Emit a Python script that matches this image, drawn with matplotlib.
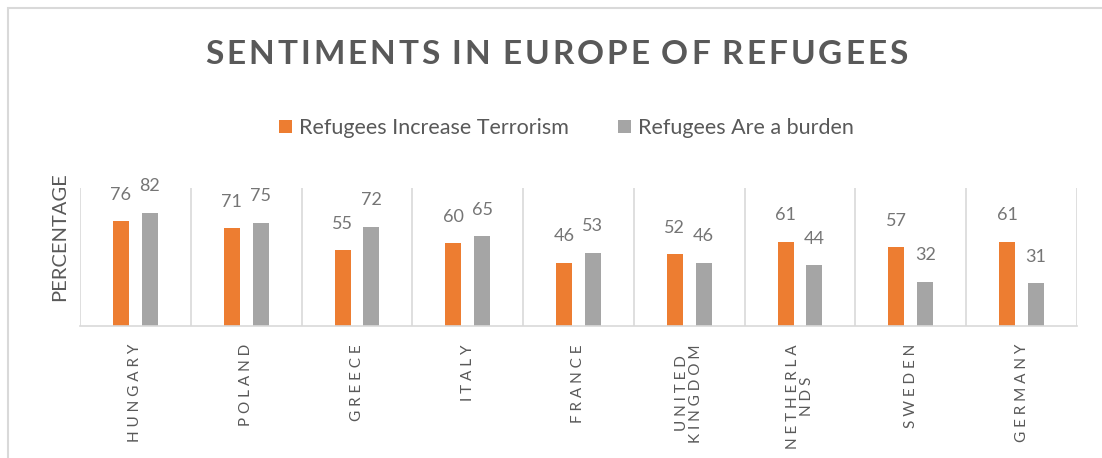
import numpy as np
import matplotlib.pyplot as plt
from matplotlib.patches import Rectangle

plt.rcParams['font.family'] = ['Lato', 'DejaVu Sans']

countries = ["HUNGARY", "POLAND", "GREECE", "ITALY", "FRANCE",
             "UNITED\nKINGDOM", "NETHERLA\nNDS", "SWEDEN", "GERMANY"]
terrorism = [76, 71, 55, 60, 46, 52, 61, 57, 61]
burden = [82, 75, 72, 65, 53, 46, 44, 32, 31]

TITLE = "SENTIMENTS IN EUROPE OF REFUGEES"

ORANGE = "#ED7D31"
GRAY = "#A5A5A5"
TEXT = "#595959"
LINE = "#D9D9D9"


def spaced(s):
    # letter-spaced category labels, one line per row
    return "\n".join(" ".join(part) for part in s.split("\n"))


def tracked_text(fig, s, xc, y, track, **kw):
    # draw s one glyph at a time with extra spacing (px) between glyphs
    r = fig.canvas.get_renderer()
    W = fig.bbox.width
    widths = []
    for ch in s:
        t = fig.text(0, 0, ch if ch != " " else "I", **kw)
        widths.append(t.get_window_extent(r).width * (0.6 if ch == " " else 1))
        t.remove()
    total = sum(widths) + track * (len(s) - 1)
    xpos = xc * W - total / 2
    for ch, wch in zip(s, widths):
        if ch != " ":
            fig.text(xpos / W, y, ch, ha="left", va="center", **kw)
        xpos += wch + track


fig = plt.figure(figsize=(11.02, 4.58), dpi=100)
ax = fig.add_axes([0.0726, 0.2882, 0.9047, 0.3013])

x = np.arange(len(countries))
w = 0.145
off = 0.13
b1 = ax.bar(x - off, terrorism, w, color=ORANGE, label="Refugees Increase Terrorism")
b2 = ax.bar(x + off, burden, w, color=GRAY, label="Refugees Are a burden")

for bars, vals in ((b1, terrorism), (b2, burden)):
    for rect, v in zip(bars, vals):
        ax.annotate(str(v), (rect.get_x() + rect.get_width() / 2, v),
                    xytext=(0, 19), textcoords="offset points",
                    ha="center", va="center", fontsize=13, color="#757575")

ax.set_xlim(-0.5, len(countries) - 0.5)
ax.set_ylim(0, 100)
ax.set_xticks(x)
ax.set_xticklabels([spaced(c) for c in countries], rotation=90,
                   fontsize=11, color=TEXT, linespacing=1.0)
ax.set_xticks(np.arange(-0.5, len(countries), 1), minor=True)
ax.tick_params(axis="x", which="both", length=0, pad=13)
ax.set_yticks([])
ax.grid(which="minor", axis="x", color=LINE, linewidth=1.2)
ax.set_axisbelow(True)
for side in ("top", "right", "left"):
    ax.spines[side].set_visible(False)
ax.spines["bottom"].set_color(LINE)
ax.spines["bottom"].set_linewidth(1.2)

ax.set_ylabel("PERCENTAGE", fontsize=14.5, color=TEXT)
ax.yaxis.set_label_coords(-0.012, 0.645)

tracked_text(fig, TITLE, 0.505, 1 - 55 / 458, 3.0,
             fontsize=24, fontweight="bold", color=TEXT)

fig.legend(handles=[b1, b2], loc="center", bbox_to_anchor=(0.514, 1 - 128 / 458), ncol=2,
           frameon=False, fontsize=15.5, handlelength=0.6, handleheight=0.6,
           handletextpad=0.3, columnspacing=2.3, labelcolor=TEXT)

# chart frame
fig.patches.append(Rectangle((8 / 1102, -0.1), 1.2, 1 - 8 / 458 + 0.1,
                             transform=fig.transFigure, fill=False,
                             edgecolor=LINE, linewidth=1.5))

fig.savefig("out.png", dpi=100)
